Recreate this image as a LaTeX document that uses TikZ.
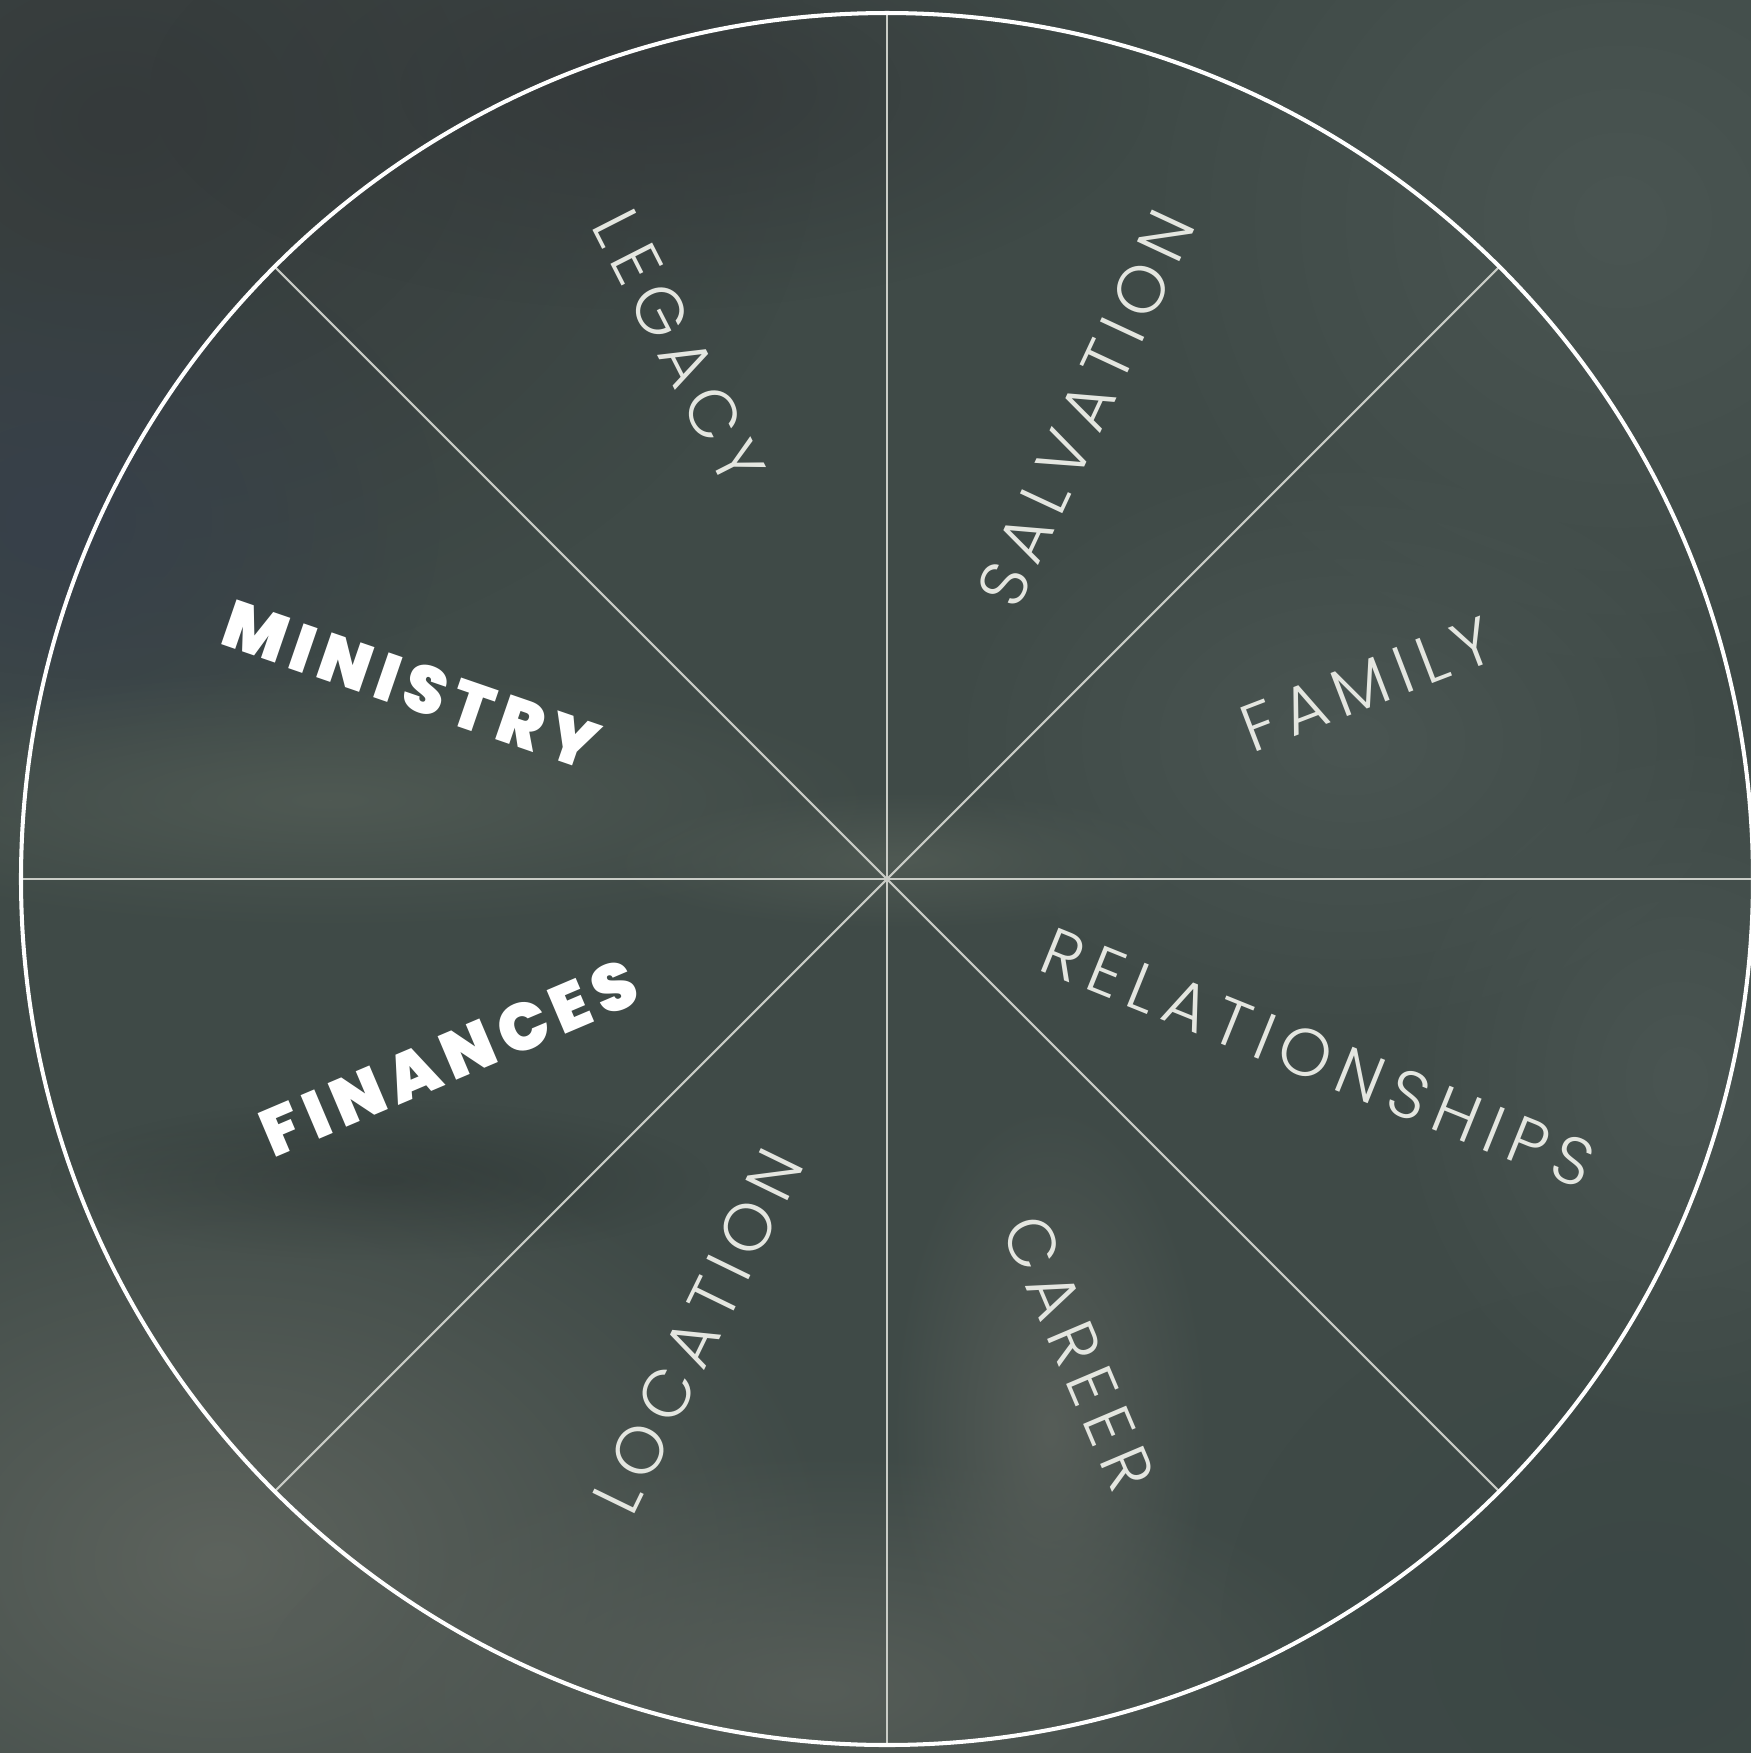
\documentclass[tikz,border=0pt]{standalone}
\usepackage{fontspec}
\usetikzlibrary{fadings}
\newfontfamily\lightfont[LetterSpace=15]{Poppins Light}
\newfontfamily\heavyfont[LetterSpace=12]{Poppins Black}
\tikzfading[name=softblob, inner color=transparent!0, outer color=transparent!100]
\definecolor{bgbase}{HTML}{3F4A47}
\definecolor{bgdark}{HTML}{353A3B}
\definecolor{bgblue}{HTML}{37404A}
\definecolor{bgband}{HTML}{4F5953}
\definecolor{bgwave}{HTML}{333C3A}
\definecolor{bglight}{HTML}{5D635D}
\definecolor{bgmid}{HTML}{565D58}
\definecolor{bgtr}{HTML}{4A5552}
\definecolor{bgbr}{HTML}{3B4745}
\definecolor{spokecol}{HTML}{C9CCC6}
\definecolor{lighttxt}{HTML}{E4E6E0}
\tikzset{
  blob/.style={fill=#1, path fading=softblob},
  rim/.style={draw=white, line width=1.15pt},
  spoke/.style={draw=spokecol, line width=0.6pt},
  lightlabel/.style={text=lighttxt, font=\lightfont\fontsize{19}{20}\selectfont, inner sep=0pt, anchor=center},
  heavylabel/.style={text=white, font=\heavyfont\fontsize{19}{20}\selectfont, inner sep=0pt, anchor=center}
}
\begin{document}
\begin{tikzpicture}[x=0.01cm,y=-0.01cm]
\useasboundingbox (0,0) rectangle (1751,1753);
\fill[bgbase] (0,0) rectangle (1751,1753);
\begin{scope}
\clip (0,0) rectangle (1751,1753);
\fill[blob=bgdark] (120,120) ellipse [x radius=700, y radius=560];
\fill[blob=bgdark] (650,90) ellipse [x radius=500, y radius=220];
\fill[blob=bgblue] (60,520) ellipse [x radius=380, y radius=300];
\fill[blob=bgtr] (1620,220) ellipse [x radius=500, y radius=480];
\fill[blob=bgband] (330,800) ellipse [x radius=560, y radius=130];
\fill[blob=bgband] (900,860) ellipse [x radius=300, y radius=70];
\fill[blob=bgwave] (380,1180) ellipse [x radius=330, y radius=80];
\fill[blob=bglight] (220,1560) ellipse [x radius=620, y radius=440];
\fill[blob=bgmid] (820,1690) ellipse [x radius=560, y radius=240];
\fill[blob=bgmid] (1050,1430) ellipse [x radius=160, y radius=330];
\fill[blob=bgtr] (1350,740) ellipse [x radius=420, y radius=300];
\fill[blob=bgbr] (1640,1640) ellipse [x radius=420, y radius=360];
\fill[blob=bgtr] (1680,1080) ellipse [x radius=300, y radius=360];
\end{scope}
% wheel
\coordinate (C) at (887,879);
\coordinate (pE) at (1753,879);
\coordinate (pW) at (21,879);
\coordinate (pN) at (887,13);
\coordinate (pS) at (887,1745);
\coordinate (pNE) at (1499.4,266.6);
\coordinate (pSW) at (274.6,1491.4);
\coordinate (pNW) at (274.6,266.6);
\coordinate (pSE) at (1499.4,1491.4);
\draw[spoke] (pW) -- (pE);
\draw[spoke] (pN) -- (pS);
\draw[spoke] (pNE) -- (pSW);
\draw[spoke] (pNW) -- (pSE);
\draw[rim] (C) circle [radius=866];
% labels
\node[lightlabel, rotate=-63] (legacy) at (679,347) {LEGACY};
\node[lightlabel, rotate=65] (salvation) at (1086,408) {SALVATION};
\node[lightlabel, rotate=21] (family) at (1367,684) {FAMILY};
\node[lightlabel, rotate=-22] (relationships) at (1318,1058) {RELATIONSHIPS};
\node[lightlabel, rotate=-67] (career) at (1079,1353) {CAREER};
\node[lightlabel, rotate=64] (location) at (698,1331) {LOCATION};
\node[heavylabel, rotate=23] (finances) at (449,1058) {FINANCES};
\node[heavylabel, rotate=-19] (ministry) at (411,685) {MINISTRY};
\end{tikzpicture}
\end{document}
